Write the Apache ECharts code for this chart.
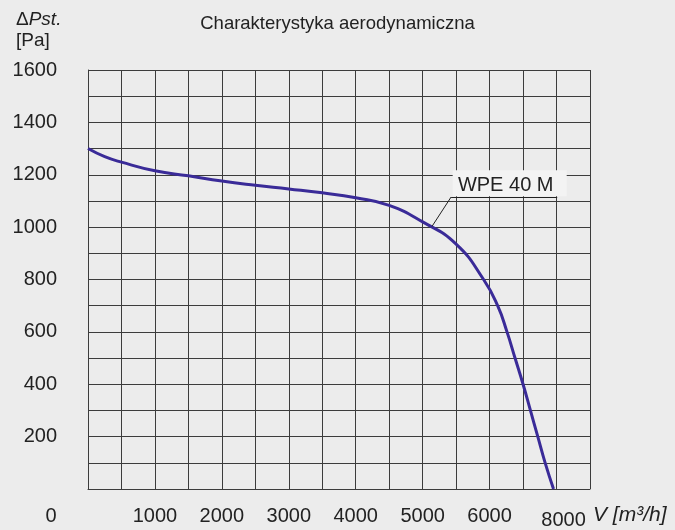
<!DOCTYPE html>
<html>
<head>
<meta charset="utf-8">
<title>Charakterystyka aerodynamiczna</title>
<script src="https://cdn.jsdelivr.net/npm/echarts@6/dist/echarts.min.js"></script>
<style>
    html, body { margin: 0; padding: 0; background: #ececec; }
    #chart { width: 675px; height: 530px; }
</style>
</head>
<body>
<div id="chart"></div>
<script>
// przepływ V [m3/h] i spręż ΔPst [Pa]
var flow = [0, 250, 500, 1000, 1500, 2000, 2500, 3000, 3500, 4000, 4500, 5000, 5500, 5910, 6120, 6260, 6380, 6500, 6610, 6720, 6830, 6955];
var pressure = [1300, 1269, 1248, 1215, 1196, 1176, 1160, 1146, 1131, 1112, 1083, 1020, 935, 800, 700, 600, 500, 400, 300, 200, 100, 0];

// opisy osi X tak jak na oryginale (ostatnia linia opisana 8000)
var xTickValues = [0, 1000, 2000, 3000, 4000, 5000, 6000, 7000];
var xTickText = ['0', '1000', '2000', '3000', '4000', '5000', '6000', '8000'];
var yTickValues = [200, 400, 600, 800, 1000, 1200, 1400, 1600];

var seriesName = 'WPE 40 M';
// punkt na krzywej, do którego prowadzi odnośnik
var labelAnchor = [5140, 1003];
var labelElbow = [5425, 1115];
var labelEnd = [7010, 1115];
var labelBox = [6300, 1168];

var lineColor = '#3a2b98';
var gridColor = '#3c3c3c';
var textColor = '#222';

var data = flow.map(function (v, i) { return [v, pressure[i]]; });

var dom = document.getElementById('chart');
var myChart = echarts.init(dom, null, { renderer: 'canvas' });

var option = {
    backgroundColor: '#ececec',
    animation: false,
    textStyle: { fontFamily: 'Liberation Sans, Arial, sans-serif' },
    title: [{
        text: 'Charakterystyka aerodynamiczna',
        left: 'center',
        top: 14,
        padding: 0,
        textStyle: { fontSize: 18.5, fontWeight: 'normal', color: textColor }
    }, {
        text: '{d|Δ}{i|Pst.}\n{n|[Pa]}',
        left: 16,
        top: 9,
        padding: 0,
        textStyle: {
            fontWeight: 'normal',
            rich: {
                d: { fontSize: 19, fontWeight: 'normal', color: textColor, lineHeight: 21 },
                i: { fontSize: 19, fontWeight: 'normal', fontStyle: 'italic', color: textColor, lineHeight: 21 },
                n: { fontSize: 19, fontWeight: 'normal', color: textColor, lineHeight: 21 }
            }
        }
    }],
    grid: { left: 88, right: 85, top: 70, bottom: 41, containLabel: false },
    xAxis: {
        type: 'value',
        min: 0,
        max: 7500,
        interval: 500,
        name: 'V [m³/h]',
        nameLocation: 'end',
        nameGap: 3,
        nameTextStyle: {
            fontSize: 21,
            fontStyle: 'italic',
            color: textColor,
            align: 'left',
            verticalAlign: 'top',
            padding: [16, 0, 0, 0]
        },
        axisLine: { show: true, lineStyle: { color: gridColor, width: 1 } },
        axisTick: { show: false },
        splitLine: { show: true, lineStyle: { color: gridColor, width: 1 } },
        axisLabel: {
            show: true,
            margin: 17,
            fontSize: 20,
            color: textColor,
            showMinLabel: true,
            showMaxLabel: true,
            formatter: function (value) {
                var idx = xTickValues.indexOf(value);
                if (idx < 0) return '';
                if (value === 0) return '{z|' + xTickText[idx] + '}';
                if (value === 7000) return '{e|' + xTickText[idx] + '}';
                return xTickText[idx];
            },
            rich: {
                z: { fontSize: 20, color: textColor, padding: [0, 74, 0, 0] },
                e: { fontSize: 20, color: textColor, padding: [4, 0, 0, 14] }
            }
        }
    },
    yAxis: {
        type: 'value',
        min: 0,
        max: 1600,
        interval: 100,
        axisLine: { show: true, lineStyle: { color: gridColor, width: 1 } },
        axisTick: { show: false },
        splitLine: { show: true, lineStyle: { color: gridColor, width: 1 } },
        axisLabel: {
            show: true,
            margin: 31,
            fontSize: 20,
            color: textColor,
            formatter: function (value) {
                return yTickValues.indexOf(value) >= 0 ? String(value) : '';
            }
        }
    },
    series: [{
        name: seriesName,
        type: 'line',
        data: data,
        smooth: 0.5,
        showSymbol: false,
        lineStyle: { color: lineColor, width: 3 },
        markLine: {
            silent: true,
            symbol: ['none', 'none'],
            label: { show: false },
            lineStyle: { color: '#222', width: 1, type: 'solid' },
            data: [
                [{ coord: labelAnchor }, { coord: labelElbow }],
                [{ coord: labelElbow }, { coord: labelEnd }]
            ]
        },
        markPoint: {
            silent: true,
            symbol: 'rect',
            symbolSize: [114, 26],
            itemStyle: { color: '#f3f3f3' },
            label: {
                show: true,
                position: 'inside',
                offset: [-4, 2],
                fontSize: 20,
                color: textColor,
                formatter: seriesName
            },
            data: [{ coord: labelBox }]
        }
    }]
};

myChart.setOption(option);
</script>
</body>
</html>
